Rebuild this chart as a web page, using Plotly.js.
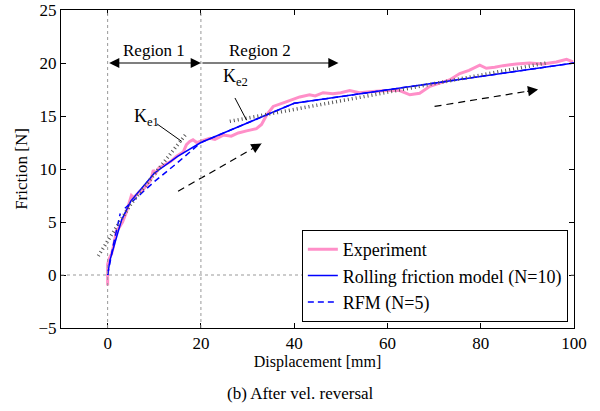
<!DOCTYPE html>
<html><head><meta charset="utf-8">
<script src="https://cdn.plot.ly/plotly-3.0.1.min.js"></script>
<style>body{margin:0;background:#fff}#c{width:600px;height:411px}</style>
</head><body><div id="c"></div>
<script>
// Experiment
const expX = [0,0,0.3,0.85,1.2,1.9,2.5,3.2,4,4.8,5.1,5.6,6.9,7.5,8.4,9.2,9.8,10.3,11,12.6,13.5,14.8,16.2,16.9,17.6,18.3,19.1,19.5,21.9,23,24.8,26.5,28,29.8,31.9,33,34.1,35.5,37,38.4,41.2,43.3,44.5,46.2,48.3,50,51.9,54,56.9,59.8,62.6,64.8,66.9,69.1,71.2,73.3,75.5,77.5,79.8,81.2,83,84.8,87.6,90.5,93.3,96.2,98.4,99.8];
const expY = [-1.0,1.0,1.5,2.0,2.6,4.2,4.5,5.0,5.9,7.0,7.5,7.3,7.9,8.0,8.5,8.9,9.9,9.6,10.1,10.5,10.7,11.2,11.6,12.3,12.6,12.75,12.5,12.55,12.9,12.8,13.2,13.1,13.4,13.6,13.8,14.2,15.1,15.9,16.1,16.35,16.8,17.0,16.9,17.2,17.1,17.2,17.4,17.2,17.3,17.4,17.4,17.0,17.15,17.8,18.1,18.4,19.0,19.3,19.8,19.5,19.6,19.75,19.9,20.0,19.9,20.1,20.35,20.1];
// Rolling friction model (N=10)
const rfm10X = [0,0.5,2,3,5,10,15,20,40,100];
const rfm10Y = [0,1.4,3.7,5.2,7,9.6,11.2,12.5,16.2,20.0];
// RFM (N=5)
const rfm5X = [0,1.2,2.7,null,3.7,10,15,20,40,100];
const rfm5Y = [0,2.8,5.8,null,6.3,8.8,10.6,12.5,16.2,20.0];
// Tangent stiffness lines
const ke1X = [-2,5,17];
const ke1Y = [1.8,6.7,13.4];
const ke2X = [26.2,94];
const ke2Y = [14.5,20.0];
// Dashed direction arrows [x0,y0,x1,y1]
const dirArrow1 = [15.1,7.9,33,12.4];
const dirArrow2 = [70.1,15.9,92.3,17.5];
// Region arrows
const region1 = [0,20,20];
const region2 = [20,49.5,20];

const F = 'Liberation Serif';
const traces = [
  {x: expX, y: expY, mode:'lines', name:'Experiment', line:{color:'#ff8fc8', width:3}},
  {x: rfm10X, y: rfm10Y, mode:'lines', name:'Rolling friction model (N=10)', line:{color:'#0000ff', width:1.5}},
  {x: rfm5X, y: rfm5Y, mode:'lines', name:'RFM (N=5)', line:{color:'#0000ff', width:1.5, dash:'6px,4px'}, connectgaps:false},
  {x: ke1X, y: ke1Y, mode:'lines', showlegend:false, line:{color:'#555', width:3.5, dash:'1px,3px'}},
  {x: ke2X, y: ke2Y, mode:'lines', showlegend:false, line:{color:'#555', width:3.5, dash:'1px,3px'}},
  {x: [dirArrow1[0], dirArrow1[2]], y: [dirArrow1[1], dirArrow1[3]], mode:'lines', showlegend:false, line:{color:'#000', width:1.2, dash:'7px,5px'}},
  {x: [dirArrow2[0], dirArrow2[2]], y: [dirArrow2[1], dirArrow2[3]], mode:'lines', showlegend:false, line:{color:'#000', width:1.2, dash:'7px,5px'}}
];
function head(a){
  const dx=a[2]-a[0], dy=a[3]-a[1];
  return {x:a[2], y:a[3], ax:a[2]-dx*0.12, ay:a[3]-dy*0.12, axref:'x', ayref:'y', xref:'x', yref:'y', text:'', showarrow:true, arrowhead:2, arrowsize:1.7, arrowwidth:1.2, arrowcolor:'#000', standoff:0};
}
const annotations = [
  {x:region1[2], y:region1[1], ax:region1[0], ay:region1[1], axref:'x', ayref:'y', text:'', showarrow:true, arrowside:'end+start', arrowhead:2, arrowsize:1.7, arrowwidth:1.2, arrowcolor:'#000', standoff:0, startstandoff:0},
  {x:region2[1], y:region2[2], ax:region2[0], ay:region2[2], axref:'x', ayref:'y', text:'', showarrow:true, arrowhead:2, arrowsize:1.7, arrowwidth:1.2, arrowcolor:'#000', standoff:0},
  {x:10, y:21.2, text:'Region 1', showarrow:false, font:{family:F, size:17, color:'#000'}},
  {x:32.6, y:21.2, text:'Region 2', showarrow:false, font:{family:F, size:17, color:'#000'}},
  head(dirArrow1), head(dirArrow2),
  {x:5.3, y:14.9, text:'K<sub>e1</sub>', xanchor:'left', showarrow:false, font:{family:F, size:18, color:'#000'}},
  {x:24.4, y:18.6, text:'K<sub>e2</sub>', xanchor:'left', showarrow:false, font:{family:F, size:18, color:'#000'}},
  {xref:'paper', yref:'paper', x:0.466, y:-0.205, text:'(b) After vel. reversal', showarrow:false, yanchor:'middle', font:{family:F, size:17, color:'#000'}}
];
const shapes = [
  {type:'line', xref:'x', yref:'paper', x0:0, x1:0, y0:0, y1:1, line:{color:'#999', width:1, dash:'dot'}},
  {type:'line', xref:'x', yref:'paper', x0:20, x1:20, y0:0, y1:1, line:{color:'#999', width:1, dash:'dot'}},
  {type:'line', xref:'paper', yref:'y', x0:0, x1:1, y0:0, y1:0, line:{color:'#999', width:1, dash:'dot'}},
  {type:'line', xref:'x', yref:'y', x0:10.6, y0:14.25, x1:15.9, y1:12.6, line:{color:'#000', width:1}},
  {type:'line', xref:'x', yref:'y', x0:27.3, y0:16.7, x1:29.8, y1:14.6, line:{color:'#000', width:1}}
];
const layout = {
  width:600, height:411, margin:{l:61, r:26, t:10, b:83},
  paper_bgcolor:'#fff', plot_bgcolor:'#fff',
  font:{family:F, size:17, color:'#000'},
  xaxis:{range:[-10,100], tick0:0, dtick:20, ticks:'inside', ticklen:5, tickcolor:'#000', mirror:'ticks', showline:true, linecolor:'#000', linewidth:1, showgrid:false, zeroline:false, tickfont:{family:F, size:17, color:'#000'}, title:{text:'Displacement [mm]', font:{family:F, size:16, color:'#000'}, standoff:3}},
  yaxis:{range:[-5,25], tick0:0, dtick:5, ticks:'inside', ticklen:5, tickcolor:'#000', mirror:'ticks', showline:true, linecolor:'#000', linewidth:1, showgrid:false, zeroline:false, tickfont:{family:F, size:17, color:'#000'}, title:{text:'Friction [N]', font:{family:F, size:17, color:'#000'}, standoff:6}},
  legend:{x:0.988, y:0.019, xanchor:'right', yanchor:'bottom', bgcolor:'#fff', bordercolor:'#000', borderwidth:1, font:{family:F, size:18, color:'#000'}, itemwidth:30, tracegroupgap:0},
  showlegend:true, annotations:annotations, shapes:shapes
};
Plotly.newPlot('c', traces, layout, {displayModeBar:false, staticPlot:true});
</script></body></html>
